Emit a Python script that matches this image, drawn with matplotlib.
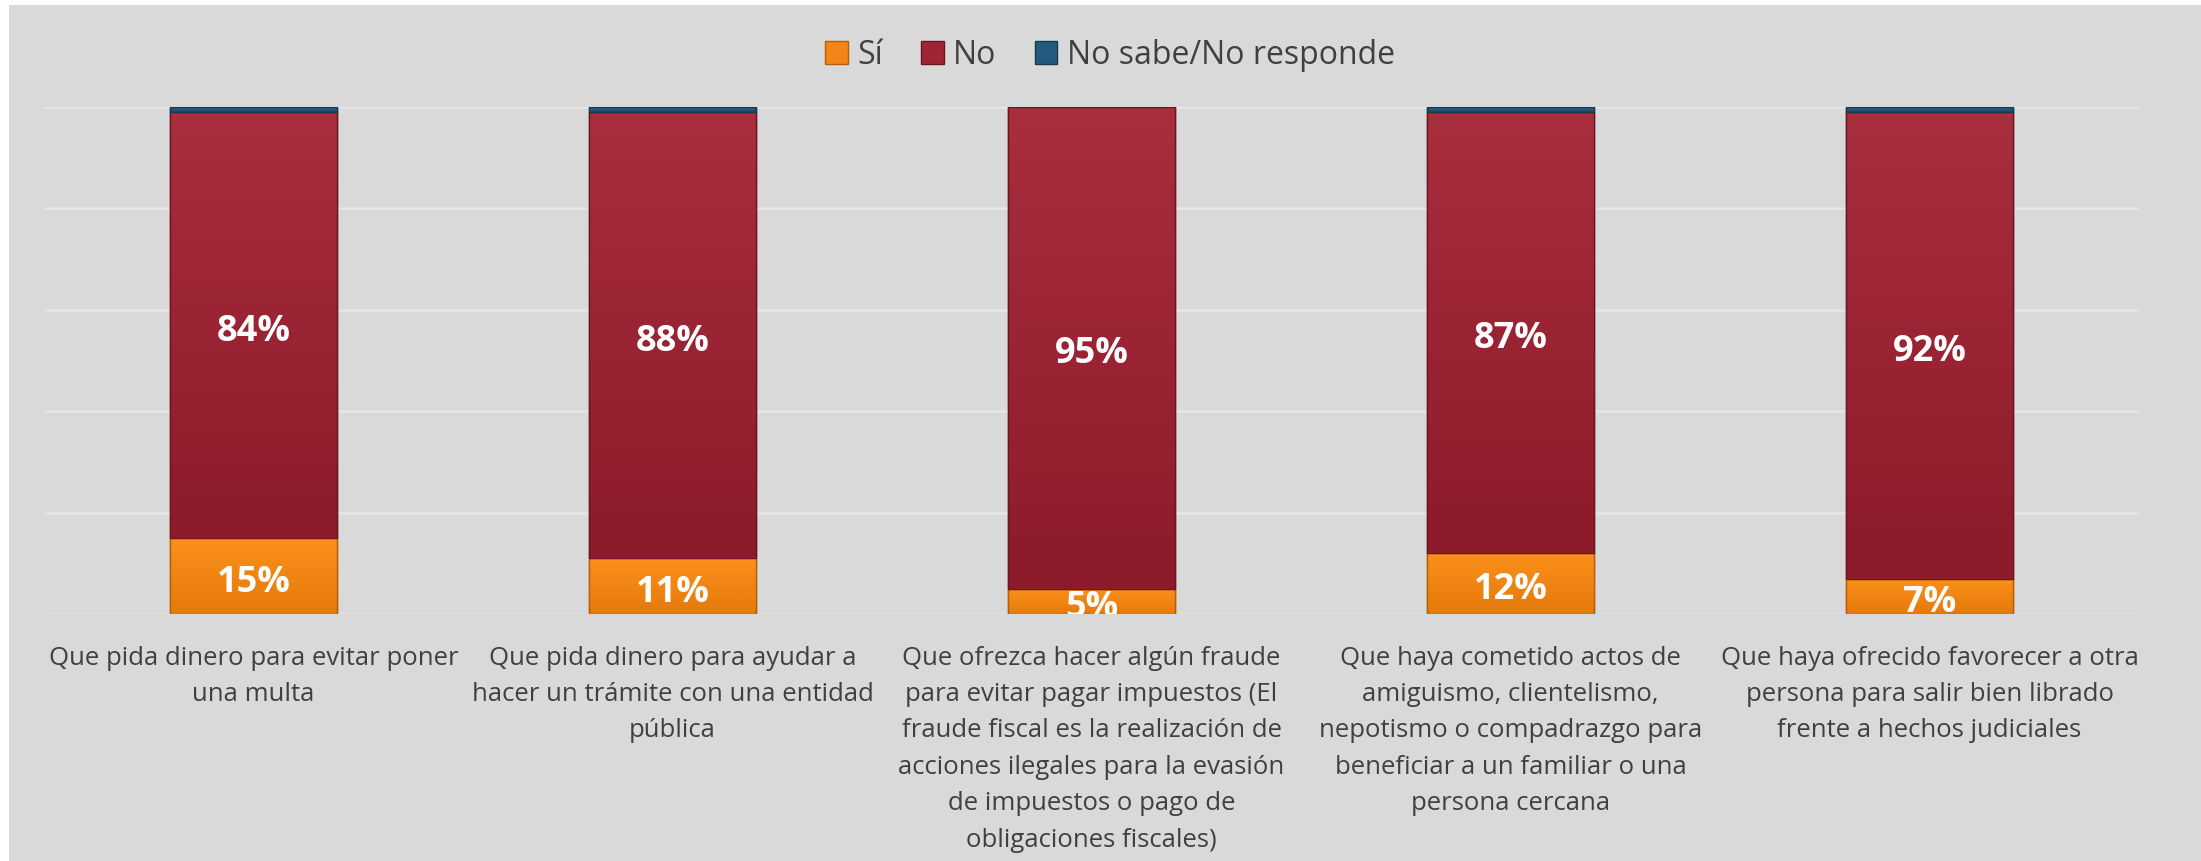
"""
Encuesta: situaciones de corrupción - barras apiladas al 100%
"""

import numpy as np
import matplotlib
matplotlib.use('Agg')
import matplotlib.pyplot as plt
from matplotlib.patches import Rectangle, Patch
from matplotlib.colors import LinearSegmentedColormap

# ==================== Datos ====================

categorias = [
    'Que pida dinero para evitar poner\nuna multa',
    'Que pida dinero para ayudar a\nhacer un trámite con una entidad\npública',
    'Que ofrezca hacer algún fraude\npara evitar pagar impuestos (El\nfraude fiscal es la realización de\n'
    'acciones ilegales para la evasión\nde impuestos o pago de\nobligaciones fiscales)',
    'Que haya cometido actos de\namiguismo, clientelismo,\nnepotismo o compadrazgo para\n'
    'beneficiar a un familiar o una\npersona cercana',
    'Que haya ofrecido favorecer a otra\npersona para salir bien librado\nfrente a hechos judiciales',
]

si = [15, 11, 5, 12, 7]
no = [84, 88, 95, 87, 92]
ns_nr = [1, 1, 0, 1, 1]

series = ['Sí', 'No', 'No sabe/No responde']

# ==================== Estilo ====================

BG = '#d9d9d9'
TXT = '#404040'
colores = {'Sí': '#f28518', 'No': '#9e2535', 'No sabe/No responde': '#245a7d'}
grad = {
    'Sí': ('#fb901c', '#e57a0a'),
    'No': ('#a92e3e', '#8c1a2a'),
    'No sabe/No responde': ('#2e6a90', '#1d4a68'),
}
bordes = {'Sí': '#b85c05', 'No': '#6b1520', 'No sabe/No responde': '#163a52'}

plt.rcParams['font.family'] = ['Open Sans', 'DejaVu Sans']

W, H = 2201, 862
fig = plt.figure(figsize=(W / 100, H / 100), dpi=100, facecolor='white')
fig.patches.append(Rectangle((9 / W, 0), 1, 1 - 6 / H, transform=fig.transFigure,
                             facecolor=BG, edgecolor='none', zorder=-10))

ax = fig.add_axes([44 / W, 1 - 615 / H, (2139 - 44) / W, (615 - 108) / H])
ax.set_facecolor('none')

x = np.arange(len(categorias))
ancho = 0.40
valores = {'Sí': si, 'No': no, 'No sabe/No responde': ns_nr}

base = np.zeros(len(x))
for s in series:
    v = np.array(valores[s], dtype=float)
    barras = ax.bar(x, v, ancho, bottom=base, color=colores[s],
                    edgecolor=bordes[s], linewidth=1.0, zorder=3)
    cmap = LinearSegmentedColormap.from_list(s, [grad[s][1], grad[s][0]])
    for p in barras.patches:
        if p.get_height() <= 0:
            continue
        g = np.linspace(0, 1, 64).reshape(-1, 1)
        ax.imshow(g, extent=[p.get_x(), p.get_x() + p.get_width(),
                             p.get_y(), p.get_y() + p.get_height()],
                  origin='lower', cmap=cmap, aspect='auto', zorder=3.5,
                  interpolation='bicubic')
        ax.add_patch(Rectangle((p.get_x(), p.get_y()), p.get_width(), p.get_height(),
                               facecolor='none', edgecolor=bordes[s], linewidth=1.0,
                               zorder=3.6))
    # etiquetas de valor (solo Sí y No)
    if s != 'No sabe/No responde':
        for xi, b, val in zip(x, base, v):
            ax.annotate(f'{val:.0f}%', (xi, b + val / 2), xytext=(0, -4),
                        textcoords='offset points', ha='center', va='center',
                        color='white', fontsize=26, fontweight='bold', zorder=5,
                        annotation_clip=False, clip_on=True)
    base += v

ax.set_xlim(-0.5, len(x) - 0.5)
ax.set_ylim(0, 100)
ax.set_yticks(np.arange(0, 101, 20))
ax.yaxis.grid(True, color='#e6e6e6', linewidth=1.8, zorder=0)
ax.set_axisbelow(True)
ax.tick_params(axis='y', left=False, labelleft=False)
ax.set_xticks(x)
ax.set_xticklabels(categorias, fontsize=18.5, color=TXT, linespacing=1.6)
ax.tick_params(axis='x', length=0, pad=22)
for sp in ax.spines.values():
    sp.set_visible(False)

handles = [Patch(facecolor=colores[s], edgecolor=bordes[s], linewidth=1.0) for s in series]
fig.legend(handles, series, loc='center', bbox_to_anchor=(1110 / W, 1 - 56 / H),
           ncol=3, frameon=False, fontsize=23, labelcolor=TXT,
           handlelength=0.7, handleheight=0.7, handletextpad=0.3, columnspacing=1.2)

fig.savefig('out.png', dpi=100, facecolor='white')
